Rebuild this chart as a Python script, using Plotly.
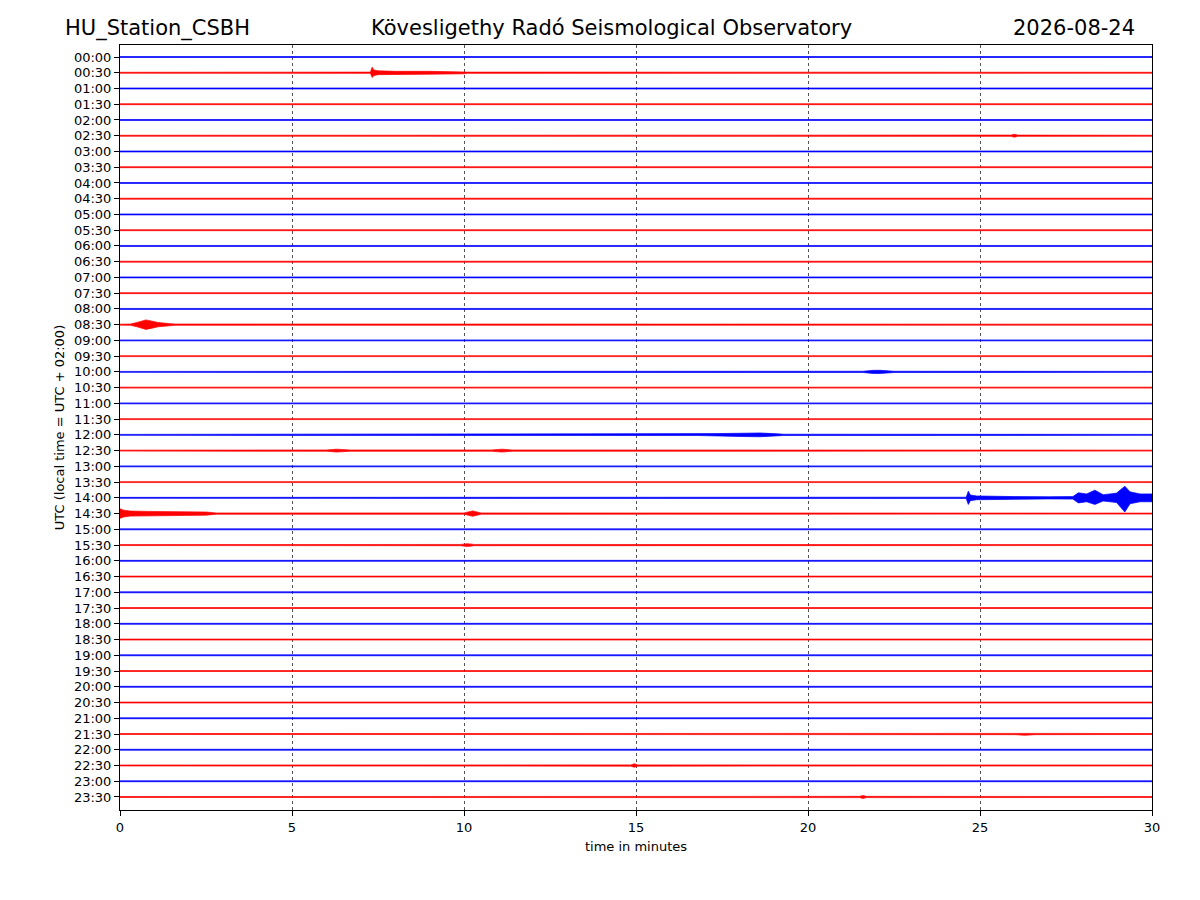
import plotly.graph_objects as go

# ---------------- data ----------------
row_labels = ["%02d:%02d" % (h, m) for h in range(24) for m in (0, 30)]
row_colors = ["#0000ff", "#ff0000"]
x_ticks = [0, 5, 10, 15, 20, 25, 30]
trace_start = 0.0
trace_end = 30.0
base_amp = 0.03  # background noise half-width (trace units)

# event envelopes: row index, times (min), upper amp, lower amp
event_rows = [1, 17, 20, 24, 25, 25, 28, 29, 29, 31, 5, 43, 45, 47]
event_times = [
    [7.28, 7.33, 7.38, 7.5, 8.0, 9.0, 10.0, 10.1],
    [0.3, 0.5, 0.75, 0.9, 1.1, 1.4, 1.6],
    [21.6, 21.9, 22.1, 22.5],
    [16.8, 17.3, 18.0, 18.6, 19.0, 19.3],
    [6.0, 6.3, 6.7],
    [10.8, 11.1, 11.4],
    [24.6, 24.66, 24.72, 24.9, 25.3, 26.0, 27.0, 27.7, 27.86, 28.1, 28.34,
     28.58, 28.78, 28.97, 29.21, 29.36, 29.65, 30.0],
    [0.0, 0.1, 0.3, 0.8, 1.5, 2.5, 2.8],
    [10.0, 10.25, 10.5],
    [9.9, 10.1, 10.3],
    [25.9, 26.0, 26.1],
    [26.0, 26.3, 26.6],
    [14.85, 14.95, 15.05],
    [21.5, 21.6, 21.7],
]
event_up = [
    [0.04, 0.35, 0.18, 0.12, 0.09, 0.09, 0.07, 0.04],
    [0.04, 0.14, 0.3, 0.24, 0.14, 0.07, 0.04],
    [0.04, 0.1, 0.1, 0.04],
    [0.04, 0.08, 0.1, 0.12, 0.08, 0.04],
    [0.04, 0.09, 0.04],
    [0.04, 0.09, 0.04],
    [0.04, 0.42, 0.18, 0.12, 0.1, 0.08, 0.07, 0.08, 0.32, 0.25, 0.49,
     0.2, 0.25, 0.3, 0.74, 0.38, 0.25, 0.25],
    [0.3, 0.22, 0.16, 0.14, 0.12, 0.1, 0.04],
    [0.04, 0.17, 0.04],
    [0.04, 0.09, 0.04],
    [0.04, 0.09, 0.04],
    [0.04, 0.08, 0.04],
    [0.04, 0.11, 0.04],
    [0.04, 0.09, 0.04],
]
event_down = [
    [0.04, 0.3, 0.18, 0.12, 0.09, 0.09, 0.07, 0.04],
    [0.04, 0.14, 0.3, 0.24, 0.14, 0.07, 0.04],
    [0.04, 0.1, 0.1, 0.04],
    [0.04, 0.08, 0.1, 0.12, 0.08, 0.04],
    [0.04, 0.09, 0.04],
    [0.04, 0.09, 0.04],
    [0.04, 0.42, 0.18, 0.12, 0.1, 0.08, 0.07, 0.08, 0.32, 0.25, 0.42,
     0.2, 0.25, 0.3, 0.9, 0.38, 0.25, 0.25],
    [0.3, 0.22, 0.16, 0.14, 0.12, 0.1, 0.04],
    [0.04, 0.17, 0.04],
    [0.04, 0.09, 0.04],
    [0.04, 0.09, 0.04],
    [0.04, 0.08, 0.04],
    [0.04, 0.11, 0.04],
    [0.04, 0.09, 0.04],
]

title_left = "HU_Station_CSBH"
title_center = "Kövesligethy Radó Seismological Observatory"
title_right = "2026-08-24"
x_title = "time in minutes"
y_title = "UTC (local time = UTC + 02:00)"

# ---------------- figure ----------------
FONT = "DejaVu Sans, Liberation Sans, sans-serif"
n_rows = len(row_labels)
fig = go.Figure()

for i, lab in enumerate(row_labels):
    y0 = -i
    pts = [(trace_start, base_amp, base_amp)]
    for r, ts, us, ds in zip(event_rows, event_times, event_up, event_down):
        if r == i:
            pts.extend(zip(ts, us, ds))
    pts.append((trace_end, base_amp, base_amp))
    pts.sort(key=lambda p: p[0])
    xs = [p[0] for p in pts]
    ups = [y0 + p[1] for p in pts]
    downs = [y0 - p[2] for p in pts]
    col = row_colors[i % 2]
    fig.add_trace(go.Scatter(
        x=xs + xs[::-1], y=ups + downs[::-1],
        mode="lines", fill="toself", fillcolor=col,
        line=dict(color=col, width=0.7),
        hoverinfo="skip", showlegend=False,
    ))

fig.update_layout(
    width=1200, height=900,
    margin=dict(l=112, r=56, t=37, b=98),
    paper_bgcolor="white", plot_bgcolor="white",
    font=dict(family=FONT, size=13, color="black"),
    showlegend=False,
)
fig.update_xaxes(
    range=[0, 30], tickvals=x_ticks, ticktext=[str(v) for v in x_ticks],
    showgrid=True, gridcolor="#555555", griddash="dot", gridwidth=0.5,
    showline=True, linecolor="black", linewidth=1, mirror=True,
    ticks="outside", ticklen=5, tickcolor="black", zeroline=False,
    title=dict(text=x_title, font=dict(size=13), standoff=8),
)
fig.update_yaxes(
    range=[-(n_rows - 1) - 0.826, 0.762],
    tickvals=[-i for i in range(n_rows)], ticktext=row_labels,
    showgrid=False, zeroline=False,
    showline=True, linecolor="black", linewidth=1, mirror=True,
    ticks="outside", ticklen=5, tickcolor="black",
    title=dict(text=y_title, font=dict(size=13), standoff=6),
)

for text, x, anchor in [(title_left, -0.0552, "left"),
                        (title_center, 0.4758, "center"),
                        (title_right, 0.9855, "right")]:
    fig.add_annotation(text=text, x=x, y=1.0222, xref="paper", yref="paper",
                       xanchor=anchor, yanchor="middle", showarrow=False,
                       font=dict(size=21, family=FONT, color="black"))

fig.write_html("out.html")
